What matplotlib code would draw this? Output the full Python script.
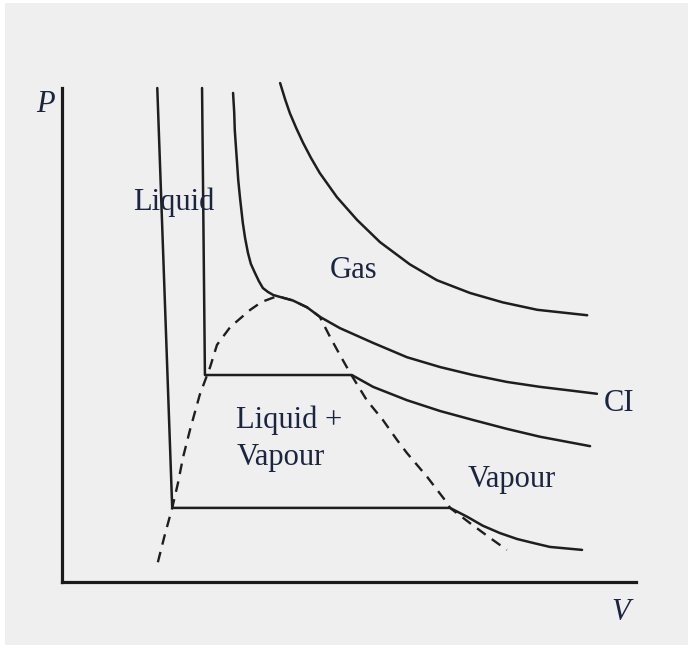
import matplotlib
matplotlib.use("Agg")
import matplotlib.pyplot as plt
from matplotlib.patches import Rectangle

# ---- data (V, P in arbitrary units; axes span 0..10) ----
gas_V = [3.80, 3.89, 3.97, 4.08, 4.20, 4.34, 4.49, 4.79, 5.14, 5.54, 6.06,
         6.53, 7.11, 7.68, 8.28, 9.15]
gas_P = [10.10, 9.76, 9.49, 9.19, 8.89, 8.58, 8.28, 7.79, 7.33, 6.88, 6.43,
         6.11, 5.85, 5.66, 5.51, 5.40]

ci_V = [2.98, 3.00, 3.01, 3.03, 3.05, 3.07, 3.10, 3.15, 3.19, 3.24, 3.29, 3.36,
        3.43, 3.50, 3.59, 3.68, 3.80, 4.02, 4.27, 4.49, 4.84, 5.42, 6.01, 6.59,
        7.16, 7.75, 8.33, 8.90, 9.32]
ci_P = [9.90, 9.51, 9.15, 8.81, 8.48, 8.14, 7.79, 7.27, 6.96, 6.66, 6.44, 6.26,
        6.09, 5.95, 5.87, 5.81, 5.77, 5.70, 5.56, 5.37, 5.14, 4.84, 4.55, 4.35,
        4.19, 4.05, 3.95, 3.87, 3.81]

iso2_V = [2.44, 2.49, 5.05, 5.42, 6.01, 6.59, 7.16, 7.75, 8.33, 9.20]
iso2_P = [10.00, 4.19, 4.19, 3.95, 3.68, 3.46, 3.28, 3.10, 2.94, 2.75]

iso1_V = [1.66, 1.92, 6.76, 7.06, 7.33, 7.63, 7.93, 8.21, 8.50, 9.06]
iso1_P = [10.00, 1.50, 1.50, 1.32, 1.14, 0.99, 0.87, 0.79, 0.71, 0.65]

dome_V = [1.67, 1.79, 1.92, 2.02, 2.11, 2.23, 2.40, 2.58, 2.70, 2.93, 3.28, 3.48,
          3.71, 3.80, 4.02, 4.27, 4.49, 4.67, 4.84, 5.02, 5.31, 5.59, 5.84, 6.01,
          6.36, 6.71, 6.76, 7.11, 7.46, 7.75]
dome_P = [0.40, 0.95, 1.50, 2.00, 2.53, 3.08, 3.79, 4.35, 4.80, 5.16, 5.51, 5.67,
          5.77, 5.77, 5.70, 5.56, 5.37, 4.96, 4.60, 4.23, 3.68, 3.28, 2.87, 2.61,
          2.13, 1.60, 1.50, 1.19, 0.89, 0.65]

labels = ["Liquid", "Gas", "Liquid +", "Vapour", "Vapour", "CI"]
label_V = [1.24, 4.67, 3.03, 3.05, 7.07, 9.43]
label_P = [7.53, 6.15, 3.12, 2.37, 1.92, 3.46]

W, H = 693, 650
fig = plt.figure(figsize=(W / 100, H / 100), dpi=100)
fig.patch.set_facecolor("white")
fig.add_artist(Rectangle((5 / W, 5 / H), 683 / W, 642 / H,
                         transform=fig.transFigure, facecolor="#efefef",
                         edgecolor="none", zorder=-10))

ax = fig.add_axes([62 / W, (H - 582) / H, (636 - 62) / W, (582 - 88) / H])
ax.set_zorder(1)
ax.set_facecolor("none")
ax.set_xlim(0, 10)
ax.set_ylim(0, 10)
for s in ["top", "right"]:
    ax.spines[s].set_visible(False)
for s in ["left", "bottom"]:
    ax.spines[s].set_linewidth(2.3)
    ax.spines[s].set_color("#1a1a1a")
ax.set_xticks([])
ax.set_yticks([])

lc = "#1e1e1e"
lw = 1.8
ax.plot(dome_V, dome_P, color=lc, lw=1.7, dashes=(4.5, 3.2), clip_on=False)
for V, P in [(gas_V, gas_P), (ci_V, ci_P), (iso2_V, iso2_P), (iso1_V, iso1_P)]:
    ax.plot(V, P, color=lc, lw=lw, solid_capstyle="round",
            solid_joinstyle="round", clip_on=False)

tc = "#1c2540"
font = "Liberation Serif"
for t, x, y in zip(labels, label_V, label_P):
    ax.text(x, y, t, fontsize=22, family=font, color=tc,
            ha="left", va="baseline")

ax.text(-0.45, 9.51, "P", fontsize=22, family=font, style="italic",
        color=tc, ha="left", va="baseline", clip_on=False)
ax.text(9.58, -0.77, "V", fontsize=22, family=font, style="italic",
        color=tc, ha="left", va="baseline", clip_on=False)

fig.savefig("out.png", dpi=100, facecolor=fig.get_facecolor())
